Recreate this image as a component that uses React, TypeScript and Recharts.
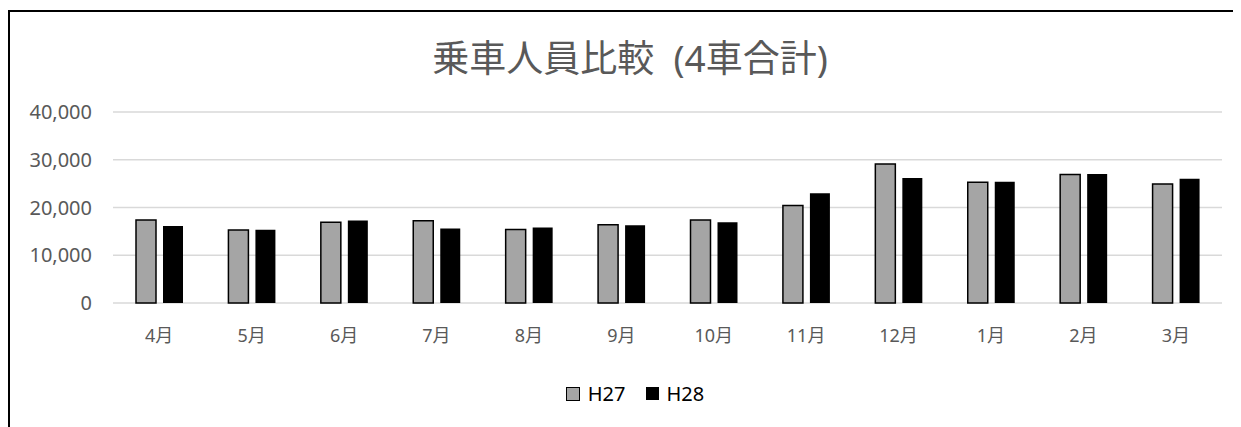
import { BarChart, Bar, XAxis, YAxis, CartesianGrid } from "recharts"

const months = ["4月", "5月", "6月", "7月", "8月", "9月", "10月", "11月", "12月", "1月", "2月", "3月"]
const h27 = [17400, 15300, 16900, 17200, 15400, 16400, 17400, 20400, 29100, 25300, 26900, 24900]
const h28 = [16100, 15350, 17300, 15600, 15800, 16300, 16900, 23000, 26200, 25400, 27000, 26000]
const yTicks = [0, 10000, 20000, 30000, 40000]

const data = months.map((m, i) => ({ month: m, h27: h27[i], h28: h28[i] }))

const FONT = "'Noto Sans', 'Noto Sans CJK JP', sans-serif"
const TEXT = "#595959"

export default function App() {
  const fmt = (v: number) => v.toLocaleString("en-US")

  return (
    <div
      style={{
        position: "relative",
        width: 1233,
        height: 417,
        marginTop: 2,
        borderTop: "2px solid #000",
        borderLeft: "2px solid #000",
        fontFamily: FONT,
        background: "#fff",
      }}
    >
      <div
        style={{
          position: "absolute",
          left: 0,
          top: 24,
          width: 1240,
          textAlign: "center",
          fontSize: 37,
          color: TEXT,
          lineHeight: "44px",
          whiteSpace: "pre",
        }}
      >
        {"乗車人員比較  (4車合計)"}
      </div>

      <BarChart
        width={1231}
        height={415}
        data={data}
        margin={{ top: 100, right: 19, bottom: 94, left: 0 }}
        barSize={20}
        barGap={7}
      >
        <CartesianGrid vertical={false} stroke="#d9d9d9" strokeWidth={1.5} />
        <XAxis
          dataKey="month"
          axisLine={false}
          tickLine={false}
          tickSize={0}
          tickMargin={26}
          tick={{ fill: TEXT, fontSize: 18, fontFamily: FONT }}
        />
        <YAxis
          width={103}
          domain={[0, 40000]}
          ticks={yTicks}
          axisLine={false}
          tickLine={false}
          tickSize={0}
          tickMargin={21}
          tickFormatter={fmt}
          tick={{ fill: TEXT, fontSize: 20, fontFamily: FONT }}
        />
        <Bar dataKey="h27" fill="#a5a5a5" stroke="#000" strokeWidth={1.5} isAnimationActive={false} />
        <Bar dataKey="h28" fill="#000" isAnimationActive={false} />
      </BarChart>

      <div
        style={{
          position: "absolute",
          top: 368,
          left: 0,
          width: 1250,
          display: "flex",
          justifyContent: "center",
          alignItems: "center",
          gap: 20,
          fontSize: 20,
          color: "#000",
        }}
      >
        <div style={{ display: "flex", alignItems: "center", gap: 8 }}>
          <span style={{ width: 12, height: 12, background: "#a5a5a5", border: "1.5px solid #000", display: "inline-block" }} />
          <span>H27</span>
        </div>
        <div style={{ display: "flex", alignItems: "center", gap: 8 }}>
          <span style={{ width: 13, height: 13, background: "#000", display: "inline-block" }} />
          <span>H28</span>
        </div>
      </div>
    </div>
  )
}
